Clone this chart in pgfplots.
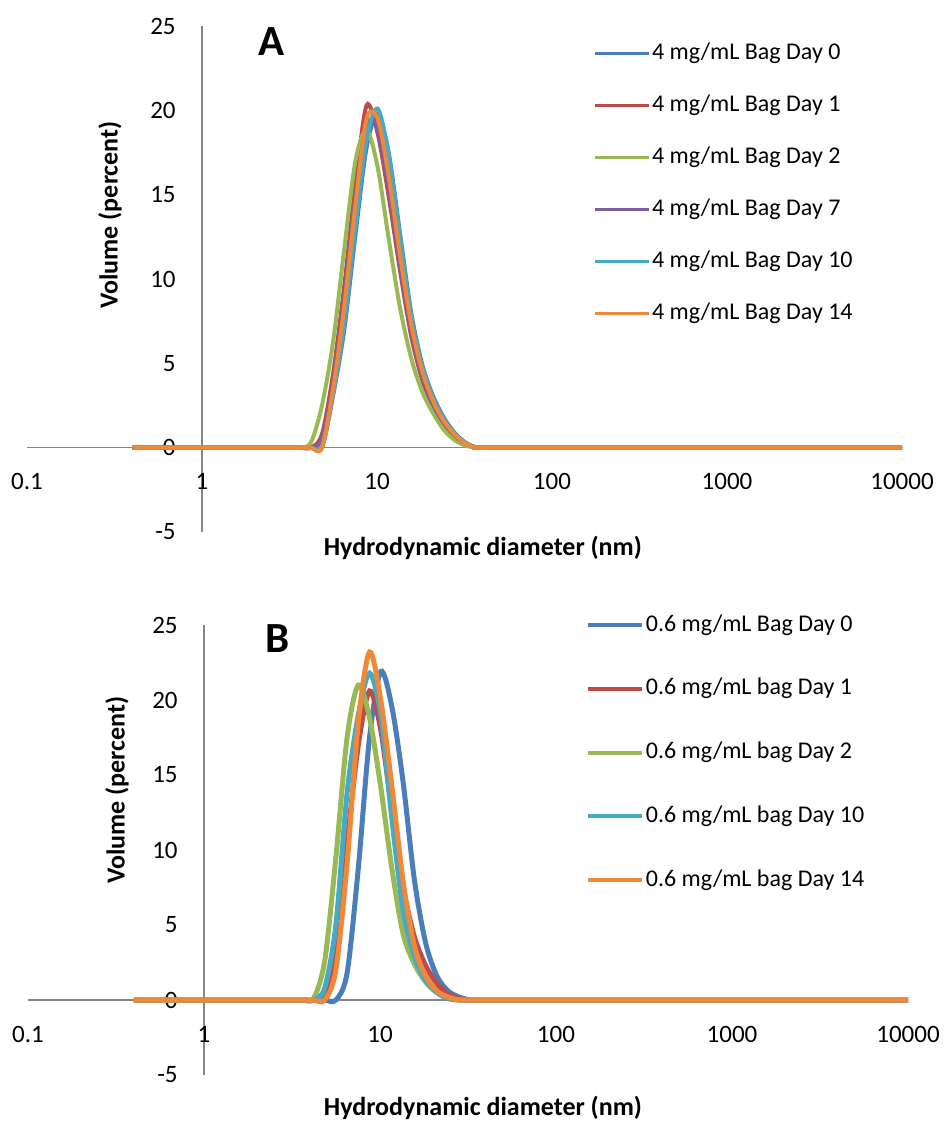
\documentclass[border=0pt]{standalone}
\usepackage{fontspec}
\setmainfont{Carlito}
\usepackage{pgfplots}
\usepackage{pgfplotstable}
\pgfplotsset{compat=1.18}

\definecolor{xlblue}{HTML}{4A7EBB}
\definecolor{xlred}{HTML}{BE4B48}
\definecolor{xlgreen}{HTML}{98B954}
\definecolor{xlpurple}{HTML}{7D60A0}
\definecolor{xlcyan}{HTML}{46AAC5}
\definecolor{xlorange}{HTML}{F0883A}
\definecolor{axisgray}{HTML}{868686}

% volume distributions, 4 mg/mL bag (size in nm, percent)
\pgfplotstableread{
size   d0    d1    d2    d7    d10   d14
0.4    0     0     0     0     0     0
2.696  0     0     0     0     0     0
3.122  0     0     0     0     0     0
3.615  0     0     0     0     0     0
4.187  0     0     0.3   0     0     0
4.849  0     0.8   2.5   0.5   0.1   0
5.615  3.1   4.4   6.3   3.9   3.2   3.5
6.503  7.0   9.6   11.8  8.9   7.4   8.4
7.531  12.6  15.6  17.0  14.8  13.1  14.4
8.721  17.8  20.3  18.85 19.2  18.3  19.5
10.10  19.8  18.6  16.6  18.8  20.1  19.5
11.70  17.4  14.8  12.3  15.3  17.3  16.0
13.54  12.7  10.5  8.3   10.8  12.5  11.4
15.69  8.0   6.6   5.3   6.9   7.8   7.3
18.17  4.9   4.0   3.3   4.2   4.8   4.5
21.04  3.0   2.4   2.0   2.5   2.9   2.7
24.36  1.7   1.3   1.0   1.4   1.6   1.5
28.21  0.8   0.6   0.4   0.65  0.75  0.7
32.67  0.25  0.15  0.1   0.2   0.2   0.2
37.84  0     0     0     0     0     0
43.82  0     0     0     0     0     0
50.75  0     0     0     0     0     0
10000  0     0     0     0     0     0
}\bagA

% volume distributions, 0.6 mg/mL bag
\pgfplotstableread{
size   d0    d1    d2    d10   d14
0.4    0     0     0     0     0
2.696  0     0     0     0     0
3.122  0     0     0     0     0
3.615  0     0     0     0     0
4.187  0     0     0.1   0     0
4.849  0     0.3   2.6   0.8   0
5.615  0     3.5   9.5   5.0   2.0
6.503  1.8   10.5  17.5  13.8  9.1
7.531  8.8   17.0  21.0  19.0  18.5
8.721  17.5  20.6  18.8  21.8  23.2
10.10  21.9  18.0  14.2  19.0  20.0
11.70  19.5  12.5  8.7   12.0  14.2
13.54  14.5  7.5   4.4   6.0   7.9
15.69  8.0   4.2   2.4   2.9   3.6
18.17  3.8   2.3   1.2   1.3   1.6
21.04  1.6   1.1   0.5   0.5   0.6
24.36  0.6   0.4   0.1   0.1   0.2
28.21  0.2   0.1   0     0     0
32.67  0     0     0     0     0
37.84  0     0     0     0     0
43.82  0     0     0     0     0
10000  0     0     0     0     0
}\bagB

\begin{document}
\begin{tikzpicture}
\useasboundingbox (0,0) rectangle (471.5pt,-562.5pt);

% ---------- A ----------
\begin{axis}[
  scale only axis,
  at={(13.5pt,-266pt)}, anchor=south west,
  width=437.5pt, height=253pt,
  xmode=log,
  xmin=0.1, xmax=10000,
  ymin=-5, ymax=25,
  axis x line=middle,
  axis y line=middle,
  axis line style={draw=axisgray, line width=0.75pt, -},
  xtick={0.1,1,10,100,1000,10000},
  xticklabels={0.1,1,10,100,1000,10000},
  ytick={-5,0,5,10,15,20,25},
  major tick length=0pt,
  minor tick length=0pt,
  hide obscured x ticks=false,
  hide obscured y ticks=false,
  /pgf/number format/assume math mode=true,
  tick label style={font=\fontsize{12.5}{14}\selectfont, text=black, inner sep=0pt},
  xticklabel style={anchor=center, yshift=-17pt},
  yticklabel style={anchor=east, xshift=-13pt},
  clip=false,
  every axis plot/.append style={smooth, line width=2pt},
  legend cell align=left,
  legend image code/.code={\draw[#1, line width=1.5pt] (0pt,0pt) -- (27pt,0pt);},
  legend style={draw=none, fill=none, inner sep=0pt, outer sep=0pt,
    at={(axis description cs:0.6469,0.9743)}, anchor=north west,
    font=\fontsize{12}{14}\selectfont, row sep=12pt,
    nodes={inner sep=1pt, text height=9pt, text depth=3pt}},
]
\addplot[xlblue]   table[x=size, y=d0]  {\bagA};
\addplot[xlred]    table[x=size, y=d1]  {\bagA};
\addplot[xlgreen]  table[x=size, y=d2]  {\bagA};
\addplot[xlpurple] table[x=size, y=d7]  {\bagA};
\addplot[xlcyan]   table[x=size, y=d10] {\bagA};
\addplot[xlorange] table[x=size, y=d14] {\bagA};
\legend{4 mg/mL Bag Day 0, 4 mg/mL Bag Day 1, 4 mg/mL Bag Day 2,
        4 mg/mL Bag Day 7, 4 mg/mL Bag Day 10, 4 mg/mL Bag Day 14}
\node[font=\fontsize{21.5}{24}\bfseries] at (axis description cs:0.2789,0.970) {A};
\node[font=\fontsize{13}{15}\bfseries] at (axis description cs:0.521,-0.0316) {Hydrodynamic diameter (nm)};
\node[font=\fontsize{13}{15}\bfseries, rotate=90] at (axis description cs:0.0949,0.6265) {Volume (percent)};
\end{axis}

% ---------- B ----------
\begin{axis}[
  scale only axis,
  at={(14pt,-537.5pt)}, anchor=south west,
  width=440pt, height=225pt,
  xmode=log,
  xmin=0.1, xmax=10000,
  ymin=-5, ymax=25,
  axis x line=middle,
  axis y line=middle,
  axis line style={draw=axisgray, line width=0.75pt, -},
  xtick={0.1,1,10,100,1000,10000},
  xticklabels={0.1,1,10,100,1000,10000},
  ytick={-5,0,5,10,15,20,25},
  major tick length=0pt,
  minor tick length=0pt,
  hide obscured x ticks=false,
  hide obscured y ticks=false,
  /pgf/number format/assume math mode=true,
  tick label style={font=\fontsize{12.5}{14}\selectfont, text=black, inner sep=0pt},
  xticklabel style={anchor=center, yshift=-17pt},
  yticklabel style={anchor=east, xshift=-13pt},
  clip=false,
  every axis plot/.append style={smooth, line width=2.5pt},
  legend cell align=left,
  legend image code/.code={\draw[#1, line width=2pt] (0pt,0pt) -- (27pt,0pt);},
  legend style={draw=none, fill=none, inner sep=0pt, outer sep=0pt,
    at={(axis description cs:0.634,1.031)}, anchor=north west,
    font=\fontsize{12}{14}\selectfont, row sep=17.9pt,
    nodes={inner sep=1pt, text height=9pt, text depth=3pt}},
]
\addplot[xlblue]   table[x=size, y=d0]  {\bagB};
\addplot[xlred]    table[x=size, y=d1]  {\bagB};
\addplot[xlgreen]  table[x=size, y=d2]  {\bagB};
\addplot[xlcyan]   table[x=size, y=d10] {\bagB};
\addplot[xlorange] table[x=size, y=d14] {\bagB};
\legend{0.6 mg/mL Bag Day 0, 0.6 mg/mL bag Day 1, 0.6 mg/mL bag Day 2,
        0.6 mg/mL bag Day 10, 0.6 mg/mL bag Day 14}
\node[font=\fontsize{21.5}{24}\bfseries] at (axis description cs:0.284,0.969) {B};
\node[font=\fontsize{13}{15}\bfseries] at (axis description cs:0.517,-0.0733) {Hydrodynamic diameter (nm)};
\node[font=\fontsize{13}{15}\bfseries, rotate=90] at (axis description cs:0.1011,0.633) {Volume (percent)};
\end{axis}
\end{tikzpicture}
\end{document}
